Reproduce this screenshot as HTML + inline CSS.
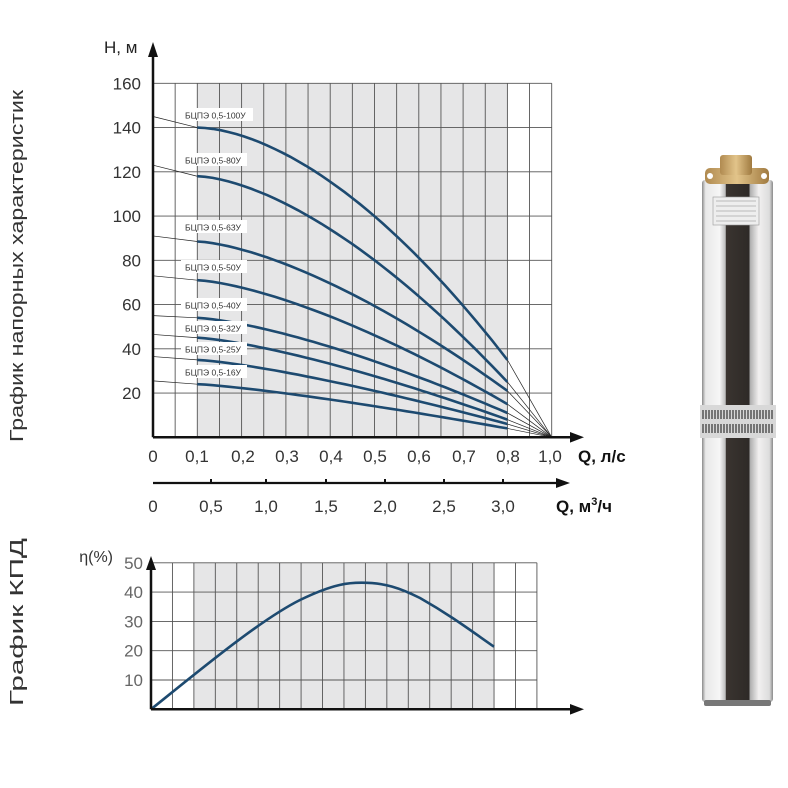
<!DOCTYPE html>
<html><head><meta charset="utf-8"><style>
html,body{margin:0;padding:0;background:#fff}
svg{display:block}
text{font-family:"Liberation Sans",sans-serif}
</style></head><body>
<svg id="s" width="788" height="788" viewBox="0 0 788 788" xmlns="http://www.w3.org/2000/svg">
<defs>
<linearGradient id="body" x1="0" x2="1" y1="0" y2="0">
<stop offset="0" stop-color="#8a8a8a"/><stop offset="0.05" stop-color="#e8e8e8"/><stop offset="0.25" stop-color="#f6f6f6"/><stop offset="0.33" stop-color="#bdbdbd"/><stop offset="0.34" stop-color="#3a3430"/><stop offset="0.66" stop-color="#2e2a27"/><stop offset="0.68" stop-color="#b0b0b0"/><stop offset="0.8" stop-color="#f2f0f0"/><stop offset="0.95" stop-color="#dcdcdc"/><stop offset="1" stop-color="#8a8a8a"/>
</linearGradient>
<linearGradient id="brass" x1="0" x2="1"><stop offset="0" stop-color="#b08a50"/><stop offset="0.5" stop-color="#e2c48a"/><stop offset="1" stop-color="#a07a40"/></linearGradient>
</defs>
<g id="g"></g>
</svg>
<script>
const g=document.getElementById('g');let h='';
function L(x1,y1,x2,y2,c,w){h+=`<line x1="${x1}" y1="${y1}" x2="${x2}" y2="${y2}" stroke="${c}" stroke-width="${w}"/>`}
function T(x,y,t,s,a,c,extra){h+=`<text x="${x}" y="${y}" font-size="${s}" text-anchor="${a||'start'}" fill="${c||'#333'}" ${extra||''}>${t}</text>`}
const x0=153,dx=22.15,yb=437.3,ky=2.2125,X=i=>x0+dx*i,Y=H=>yb-H*ky;
h+=`<rect x="${X(2)}" y="${Y(160)}" width="${X(16)-X(2)}" height="${yb-Y(160)}" fill="#e6e6e7"/>`;
for(let i=1;i<=18;i++)L(X(i),Y(160),X(i),yb,'#555',0.9);
for(let H=20;H<=160;H+=20)L(x0,Y(H),X(18),Y(H),'#555',0.9);
const cur=[[145,140,35,1.72],[123,118,25,1.6],[91,88.5,21,1.5],[73,71,15,1.45],[55,54,11,1.4],[46.5,45,8,1.35],[36.5,35,6,1.3],[25.5,24,4,1.25]];
cur.forEach(([h0,hs,he,p])=>{L(x0,Y(h0),X(2),Y(hs),'#222',0.7);L(X(16),Y(he),X(18),yb,'#222',0.7);
let pts=[];for(let k=0;k<=40;k++){let t=k/40;pts.push(X(2+14*t).toFixed(1)+','+Y(hs-(hs-he)*Math.pow(t,p)).toFixed(1))}
h+=`<polyline points="${pts.join(' ')}" fill="none" stroke="#1d4a70" stroke-width="2.6"/>`;});
const lab=[['100У',115],['80У',160],['63У',227],['50У',267],['40У',305],['32У',328],['25У',349],['16У',372]];
lab.forEach(([t,y])=>{h+=`<rect x="181" y="${y-7}" width="${t.length>3?72:66}" height="13" fill="#fff"/>`;T(185,y+3.5,'БЦПЭ 0,5-'+t,8.5,'start','#333')});
L(x0,yb,572,yb,'#111',2.5);h+=`<polygon points="584,437.3 570,432 570,442.6" fill="#111"/>`;
L(x0,yb,x0,55,'#111',2.5);h+=`<polygon points="153,42 148,57 158,57" fill="#111"/>`;
T(104,53,'Н, м',17,'start','#222');
for(let H=20;H<=160;H+=20)T(141,Y(H)+6,H,17,'end','#333');
const ql=[['0',153],['0,1',197],['0,2',243],['0,3',287],['0,4',331],['0,5',375],['0,6',419],['0,7',464],['0,8',508],['1,0',550]];
ql.forEach(([t,x])=>T(x,462,t,17,'middle','#333'));
T(578,462,'Q, л/с',17,'start','#111','font-weight="bold"');
L(153,483,558,483,'#111',2.2);h+=`<polygon points="570,483 556,478 556,488" fill="#111"/>`;
[211,266,326,385,444,503].forEach(x=>L(x,479,x,483,'#111',2));
[['0',153],['0,5',211],['1,0',266],['1,5',326],['2,0',385],['2,5',444],['3,0',503]].forEach(([t,x])=>T(x,512,t,17,'middle','#333'));
T(556,512,'Q, м<tspan font-size="11" dy="-7">3</tspan><tspan dy="7">/ч</tspan>',17,'start','#111','font-weight="bold"');
const bx0=151,bdx=21.44,by0=709.3,bky=2.93,BX=i=>bx0+bdx*i,BY=v=>by0-v*bky;
h+=`<rect x="${BX(2)}" y="${BY(50)}" width="${BX(16)-BX(2)}" height="${by0-BY(50)}" fill="#e6e6e7"/>`;
for(let i=1;i<=18;i++)L(BX(i),BY(50),BX(i),by0,'#555',0.9);
for(let v=10;v<=50;v+=10)L(bx0,BY(v),BX(18),BY(v),'#555',0.9);
h+=`<path d="M151,709.3 C200,670 260,620 300,600 C335,583 350,582.7 361.7,582.7 C385,582.7 400,588 420,598 C450,615 470,630 494,646.7" fill="none" stroke="#1d4a70" stroke-width="2.6"/>`;
L(bx0,by0,572,by0,'#111',2.5);h+=`<polygon points="584,709.3 570,704 570,714.6" fill="#111"/>`;
L(bx0,by0,bx0,568,'#111',2.5);h+=`<polygon points="151,556 146,570 156,570" fill="#111"/>`;
T(113,562,'η(%)',16,'end','#333');
for(let v=10;v<=50;v+=10)T(143,BY(v)+6,v,17,'end','#666');
T(0,0,'График напорных характеристик',18,'middle','#333','transform="translate(23,266) rotate(-90)" textLength="352" lengthAdjust="spacingAndGlyphs"');
T(0,0,'График КПД',18,'middle','#333','transform="translate(23,622) rotate(-90)" textLength="168" lengthAdjust="spacingAndGlyphs"');
h+=`<rect x="702" y="180" width="71" height="522" rx="3" fill="url(#body)"/>`;
h+=`<rect x="705" y="168" width="64" height="16" rx="5" fill="url(#brass)"/><circle cx="710" cy="176" r="3" fill="#fff"/><circle cx="764" cy="176" r="3" fill="#fff"/>`;
h+=`<rect x="720" y="155" width="32" height="20" rx="3" fill="url(#brass)"/>`;
h+=`<rect x="713" y="197" width="46" height="28" fill="#eee" stroke="#999" stroke-width="0.6"/>`;
for(let k=0;k<5;k++)L(716,201+k*5,756,201+k*5,'#888',0.6);
h+=`<rect x="700" y="405" width="76" height="33" fill="#d8d8d8"/>`;
for(let k=0;k<24;k++){L(703+k*3,410,703+k*3,419,'#333',1.2);L(703+k*3,424,703+k*3,433,'#333',1.2)}
h+=`<rect x="704" y="700" width="67" height="6" rx="2" fill="#777"/>`;
g.innerHTML=h;
</script>
</body></html>
